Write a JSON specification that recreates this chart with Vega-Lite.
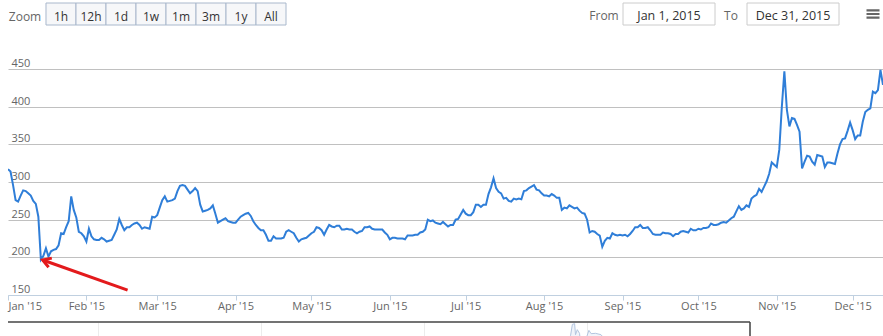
{
  "$schema": "https://vega.github.io/schema/vega-lite/v6.json",
  "padding": {"left": 7, "top": 2, "right": 0, "bottom": 0},
  "background": "white",
  "config": {"view": {"stroke": null}, "font": "Open Sans"},
  "datasets": {
    "btc": [
      {"d":"2015-01-01","v":317},{"d":"2015-01-02","v":314},{"d":"2015-01-03","v":296},{"d":"2015-01-04","v":276},{"d":"2015-01-05","v":274},{"d":"2015-01-06","v":282},{"d":"2015-01-07","v":289},{"d":"2015-01-08","v":288},{"d":"2015-01-09","v":285},{"d":"2015-01-10","v":282},
      {"d":"2015-01-11","v":275},{"d":"2015-01-12","v":271},{"d":"2015-01-13","v":254},{"d":"2015-01-14","v":197},{"d":"2015-01-15","v":202},{"d":"2015-01-16","v":212},{"d":"2015-01-17","v":201},{"d":"2015-01-18","v":208},{"d":"2015-01-19","v":210},{"d":"2015-01-20","v":211},
      {"d":"2015-01-21","v":216},{"d":"2015-01-22","v":232},{"d":"2015-01-23","v":231},{"d":"2015-01-24","v":240},{"d":"2015-01-25","v":248},{"d":"2015-01-26","v":281},{"d":"2015-01-27","v":263},{"d":"2015-01-28","v":253},{"d":"2015-01-29","v":234},{"d":"2015-01-30","v":232},{"d":"2015-01-31","v":228},
      {"d":"2015-02-01","v":221},{"d":"2015-02-02","v":238},{"d":"2015-02-03","v":228},{"d":"2015-02-04","v":224},{"d":"2015-02-05","v":223},{"d":"2015-02-06","v":223},{"d":"2015-02-07","v":226},{"d":"2015-02-08","v":224},{"d":"2015-02-09","v":221},{"d":"2015-02-10","v":222},
      {"d":"2015-02-11","v":223},{"d":"2015-02-12","v":230},{"d":"2015-02-13","v":237},{"d":"2015-02-14","v":251},{"d":"2015-02-15","v":243},{"d":"2015-02-16","v":236},{"d":"2015-02-17","v":240},{"d":"2015-02-18","v":240},{"d":"2015-02-19","v":243},{"d":"2015-02-20","v":245},
      {"d":"2015-02-21","v":246},{"d":"2015-02-22","v":243},{"d":"2015-02-23","v":238},{"d":"2015-02-24","v":240},{"d":"2015-02-25","v":239},{"d":"2015-02-26","v":238},{"d":"2015-02-27","v":254},{"d":"2015-02-28","v":253},
      {"d":"2015-03-01","v":256},{"d":"2015-03-02","v":266},{"d":"2015-03-03","v":276},{"d":"2015-03-04","v":281},{"d":"2015-03-05","v":274},{"d":"2015-03-06","v":275},{"d":"2015-03-07","v":276},{"d":"2015-03-08","v":278},{"d":"2015-03-09","v":288},{"d":"2015-03-10","v":295},
      {"d":"2015-03-11","v":296},{"d":"2015-03-12","v":295},{"d":"2015-03-13","v":290},{"d":"2015-03-14","v":285},{"d":"2015-03-15","v":288},{"d":"2015-03-16","v":292},{"d":"2015-03-17","v":288},{"d":"2015-03-18","v":270},{"d":"2015-03-19","v":261},{"d":"2015-03-20","v":262},
      {"d":"2015-03-21","v":263},{"d":"2015-03-22","v":265},{"d":"2015-03-23","v":269},{"d":"2015-03-24","v":258},{"d":"2015-03-25","v":246},{"d":"2015-03-26","v":248},{"d":"2015-03-27","v":250},{"d":"2015-03-28","v":252},{"d":"2015-03-29","v":248},{"d":"2015-03-30","v":247},{"d":"2015-03-31","v":246},
      {"d":"2015-04-01","v":246},{"d":"2015-04-02","v":250},{"d":"2015-04-03","v":254},{"d":"2015-04-04","v":256},{"d":"2015-04-05","v":258},{"d":"2015-04-06","v":259},{"d":"2015-04-07","v":255},{"d":"2015-04-08","v":248},{"d":"2015-04-09","v":243},{"d":"2015-04-10","v":239},
      {"d":"2015-04-11","v":236},{"d":"2015-04-12","v":236},{"d":"2015-04-13","v":230},{"d":"2015-04-14","v":222},{"d":"2015-04-15","v":222},{"d":"2015-04-16","v":228},{"d":"2015-04-17","v":225},{"d":"2015-04-18","v":225},{"d":"2015-04-19","v":225},{"d":"2015-04-20","v":226},
      {"d":"2015-04-21","v":234},{"d":"2015-04-22","v":236},{"d":"2015-04-23","v":234},{"d":"2015-04-24","v":232},{"d":"2015-04-25","v":226},{"d":"2015-04-26","v":221},{"d":"2015-04-27","v":224},{"d":"2015-04-28","v":225},{"d":"2015-04-29","v":226},{"d":"2015-04-30","v":229},
      {"d":"2015-05-01","v":232},{"d":"2015-05-02","v":234},{"d":"2015-05-03","v":240},{"d":"2015-05-04","v":239},{"d":"2015-05-05","v":236},{"d":"2015-05-06","v":230},{"d":"2015-05-07","v":237},{"d":"2015-05-08","v":243},{"d":"2015-05-09","v":241},{"d":"2015-05-10","v":240},
      {"d":"2015-05-11","v":242},{"d":"2015-05-12","v":242},{"d":"2015-05-13","v":237},{"d":"2015-05-14","v":237},{"d":"2015-05-15","v":238},{"d":"2015-05-16","v":237},{"d":"2015-05-17","v":237},{"d":"2015-05-18","v":234},{"d":"2015-05-19","v":232},{"d":"2015-05-20","v":234},
      {"d":"2015-05-21","v":235},{"d":"2015-05-22","v":240},{"d":"2015-05-23","v":240},{"d":"2015-05-24","v":241},{"d":"2015-05-25","v":238},{"d":"2015-05-26","v":237},{"d":"2015-05-27","v":237},{"d":"2015-05-28","v":237},{"d":"2015-05-29","v":237},{"d":"2015-05-30","v":233},{"d":"2015-05-31","v":230},
      {"d":"2015-06-01","v":224},{"d":"2015-06-02","v":226},{"d":"2015-06-03","v":226},{"d":"2015-06-04","v":225},{"d":"2015-06-05","v":225},{"d":"2015-06-06","v":225},{"d":"2015-06-07","v":224},{"d":"2015-06-08","v":229},{"d":"2015-06-09","v":229},{"d":"2015-06-10","v":229},
      {"d":"2015-06-11","v":230},{"d":"2015-06-12","v":230},{"d":"2015-06-13","v":233},{"d":"2015-06-14","v":234},{"d":"2015-06-15","v":237},{"d":"2015-06-16","v":250},{"d":"2015-06-17","v":248},{"d":"2015-06-18","v":249},{"d":"2015-06-19","v":246},{"d":"2015-06-20","v":245},
      {"d":"2015-06-21","v":244},{"d":"2015-06-22","v":247},{"d":"2015-06-23","v":244},{"d":"2015-06-24","v":241},{"d":"2015-06-25","v":243},{"d":"2015-06-26","v":243},{"d":"2015-06-27","v":250},{"d":"2015-06-28","v":251},{"d":"2015-06-29","v":257},{"d":"2015-06-30","v":263},
      {"d":"2015-07-01","v":258},{"d":"2015-07-02","v":256},{"d":"2015-07-03","v":256},{"d":"2015-07-04","v":260},{"d":"2015-07-05","v":270},{"d":"2015-07-06","v":270},{"d":"2015-07-07","v":267},{"d":"2015-07-08","v":270},{"d":"2015-07-09","v":270},{"d":"2015-07-10","v":284},
      {"d":"2015-07-11","v":293},{"d":"2015-07-12","v":305},{"d":"2015-07-13","v":292},{"d":"2015-07-14","v":287},{"d":"2015-07-15","v":285},{"d":"2015-07-16","v":278},{"d":"2015-07-17","v":279},{"d":"2015-07-18","v":275},{"d":"2015-07-19","v":274},{"d":"2015-07-20","v":278},
      {"d":"2015-07-21","v":277},{"d":"2015-07-22","v":278},{"d":"2015-07-23","v":277},{"d":"2015-07-24","v":288},{"d":"2015-07-25","v":289},{"d":"2015-07-26","v":292},{"d":"2015-07-27","v":294},{"d":"2015-07-28","v":296},{"d":"2015-07-29","v":290},{"d":"2015-07-30","v":289},{"d":"2015-07-31","v":285},
      {"d":"2015-08-01","v":282},{"d":"2015-08-02","v":282},{"d":"2015-08-03","v":281},{"d":"2015-08-04","v":284},{"d":"2015-08-05","v":282},{"d":"2015-08-06","v":279},{"d":"2015-08-07","v":279},{"d":"2015-08-08","v":263},{"d":"2015-08-09","v":266},{"d":"2015-08-10","v":265},
      {"d":"2015-08-11","v":269},{"d":"2015-08-12","v":267},{"d":"2015-08-13","v":265},{"d":"2015-08-14","v":266},{"d":"2015-08-15","v":262},{"d":"2015-08-16","v":259},{"d":"2015-08-17","v":258},{"d":"2015-08-18","v":250},{"d":"2015-08-19","v":233},{"d":"2015-08-20","v":235},
      {"d":"2015-08-21","v":234},{"d":"2015-08-22","v":231},{"d":"2015-08-23","v":229},{"d":"2015-08-24","v":214},{"d":"2015-08-25","v":222},{"d":"2015-08-26","v":226},{"d":"2015-08-27","v":225},{"d":"2015-08-28","v":232},{"d":"2015-08-29","v":230},{"d":"2015-08-30","v":229},{"d":"2015-08-31","v":230},
      {"d":"2015-09-01","v":229},{"d":"2015-09-02","v":230},{"d":"2015-09-03","v":228},{"d":"2015-09-04","v":231},{"d":"2015-09-05","v":235},{"d":"2015-09-06","v":240},{"d":"2015-09-07","v":240},{"d":"2015-09-08","v":243},{"d":"2015-09-09","v":239},{"d":"2015-09-10","v":239},
      {"d":"2015-09-11","v":240},{"d":"2015-09-12","v":236},{"d":"2015-09-13","v":231},{"d":"2015-09-14","v":230},{"d":"2015-09-15","v":230},{"d":"2015-09-16","v":230},{"d":"2015-09-17","v":233},{"d":"2015-09-18","v":232},{"d":"2015-09-19","v":232},{"d":"2015-09-20","v":231},
      {"d":"2015-09-21","v":228},{"d":"2015-09-22","v":231},{"d":"2015-09-23","v":231},{"d":"2015-09-24","v":234},{"d":"2015-09-25","v":235},{"d":"2015-09-26","v":234},{"d":"2015-09-27","v":233},{"d":"2015-09-28","v":238},{"d":"2015-09-29","v":236},{"d":"2015-09-30","v":236},
      {"d":"2015-10-01","v":238},{"d":"2015-10-02","v":237},{"d":"2015-10-03","v":239},{"d":"2015-10-04","v":239},{"d":"2015-10-05","v":240},{"d":"2015-10-06","v":245},{"d":"2015-10-07","v":243},{"d":"2015-10-08","v":243},{"d":"2015-10-09","v":244},{"d":"2015-10-10","v":246},
      {"d":"2015-10-11","v":247},{"d":"2015-10-12","v":246},{"d":"2015-10-13","v":249},{"d":"2015-10-14","v":252},{"d":"2015-10-15","v":254},{"d":"2015-10-16","v":261},{"d":"2015-10-17","v":268},{"d":"2015-10-18","v":263},{"d":"2015-10-19","v":265},{"d":"2015-10-20","v":269},
      {"d":"2015-10-21","v":267},{"d":"2015-10-22","v":278},{"d":"2015-10-23","v":281},{"d":"2015-10-24","v":283},{"d":"2015-10-25","v":291},{"d":"2015-10-26","v":287},{"d":"2015-10-27","v":294},{"d":"2015-10-28","v":301},{"d":"2015-10-29","v":311},{"d":"2015-10-30","v":326},{"d":"2015-10-31","v":323},
      {"d":"2015-11-01","v":320},{"d":"2015-11-02","v":343},{"d":"2015-11-03","v":400},{"d":"2015-11-04","v":447},{"d":"2015-11-05","v":396},{"d":"2015-11-06","v":374},{"d":"2015-11-07","v":385},{"d":"2015-11-08","v":384},{"d":"2015-11-09","v":376},{"d":"2015-11-10","v":367},
      {"d":"2015-11-11","v":318},{"d":"2015-11-12","v":327},{"d":"2015-11-13","v":335},{"d":"2015-11-14","v":334},{"d":"2015-11-15","v":327},{"d":"2015-11-16","v":323},{"d":"2015-11-17","v":336},{"d":"2015-11-18","v":335},{"d":"2015-11-19","v":334},{"d":"2015-11-20","v":320},
      {"d":"2015-11-21","v":326},{"d":"2015-11-22","v":326},{"d":"2015-11-23","v":325},{"d":"2015-11-24","v":324},{"d":"2015-11-25","v":338},{"d":"2015-11-26","v":350},{"d":"2015-11-27","v":357},{"d":"2015-11-28","v":358},{"d":"2015-11-29","v":368},{"d":"2015-11-30","v":379},
      {"d":"2015-12-01","v":369},{"d":"2015-12-02","v":357},{"d":"2015-12-03","v":362},{"d":"2015-12-04","v":362},{"d":"2015-12-05","v":380},{"d":"2015-12-06","v":393},{"d":"2015-12-07","v":396},{"d":"2015-12-08","v":398},{"d":"2015-12-09","v":420},{"d":"2015-12-10","v":418},
      {"d":"2015-12-11","v":422},{"d":"2015-12-12","v":449},{"d":"2015-12-13","v":429},{"d":"2015-12-14","v":446}
    ],
    "nav": [
      {"d":"2010-07-18","v":0.08},{"d":"2010-10-01","v":0.06},{"d":"2011-01-01","v":0.3},{"d":"2011-03-01","v":0.9},{"d":"2011-05-01","v":3.5},{"d":"2011-06-08","v":29},{"d":"2011-07-01","v":15},{"d":"2011-09-01","v":8},{"d":"2011-11-15","v":2.3},
      {"d":"2012-01-08","v":7},{"d":"2012-03-01","v":5},{"d":"2012-06-01","v":5.3},{"d":"2012-08-16","v":13.5},{"d":"2012-10-01","v":12.4},{"d":"2012-12-01","v":12.6},
      {"d":"2013-02-01","v":20.4},{"d":"2013-03-15","v":47},{"d":"2013-04-09","v":230},{"d":"2013-04-16","v":68},{"d":"2013-06-01","v":129},{"d":"2013-07-05","v":68},{"d":"2013-09-01","v":146},{"d":"2013-10-01","v":125},{"d":"2013-10-25","v":180},
      {"d":"2013-11-05","v":250},{"d":"2013-11-12","v":355},{"d":"2013-11-17","v":490},{"d":"2013-11-18","v":700},{"d":"2013-11-21","v":720},{"d":"2013-11-25","v":800},{"d":"2013-11-29","v":1130},{"d":"2013-12-04","v":1150},{"d":"2013-12-06","v":820},
      {"d":"2013-12-10","v":970},{"d":"2013-12-15","v":860},{"d":"2013-12-18","v":520},{"d":"2013-12-22","v":650},{"d":"2013-12-31","v":750},{"d":"2014-01-05","v":950},{"d":"2014-01-10","v":850},{"d":"2014-01-20","v":860},{"d":"2014-02-01","v":820},
      {"d":"2014-02-10","v":680},{"d":"2014-02-25","v":530},{"d":"2014-03-05","v":670},{"d":"2014-03-20","v":590},{"d":"2014-04-10","v":380},{"d":"2014-05-01","v":455},{"d":"2014-06-03","v":660},{"d":"2014-07-01","v":640},{"d":"2014-08-01","v":585},
      {"d":"2014-08-18","v":470},{"d":"2014-09-22","v":400},{"d":"2014-10-05","v":320},{"d":"2014-11-01","v":325},{"d":"2014-11-12","v":420},{"d":"2014-12-01","v":380},{"d":"2014-12-31","v":318},
      {"d":"2015-01-14","v":197},{"d":"2015-02-01","v":221},{"d":"2015-03-11","v":296},{"d":"2015-04-14","v":222},{"d":"2015-05-15","v":238},{"d":"2015-06-15","v":237},{"d":"2015-07-12","v":305},{"d":"2015-08-24","v":214},{"d":"2015-09-15","v":230},{"d":"2015-10-25","v":291}
    ]
  },
  "spacing": 13,
  "bounds": "full",
  "vconcat": [
    {
      "spacing": 0,
      "bounds": "flush",
      "hconcat": [
        {
          "width": 34, "height": 22,
          "data": {"values": [{"t": "Zoom"}]},
          "mark": {"type": "text", "fontSize": 12, "color": "#666666", "dy": 3},
          "encoding": {"text": {"field": "t"}}
        },
        {
          "width": 248, "height": 22,
          "data": {"values": [{"b": "1h"}, {"b": "12h"}, {"b": "1d"}, {"b": "1w"}, {"b": "1m"}, {"b": "3m"}, {"b": "1y"}, {"b": "All"}]},
          "encoding": {"x": {"field": "b", "type": "nominal", "sort": null, "scale": {"paddingInner": 0, "paddingOuter": 0.1333}, "axis": null}},
          "layer": [
            {"mark": {"type": "rect", "fill": "#f6f7f9", "stroke": "#a9b8cc", "strokeWidth": 1}},
            {"mark": {"type": "text", "fontSize": 12, "color": "#333333", "dy": 3}, "encoding": {"text": {"field": "b"}}}
          ]
        },
        {
          "width": 295, "height": 22,
          "data": {"values": [{"t": ""}]},
          "mark": {"type": "text"},
          "encoding": {"text": {"field": "t"}}
        },
        {
          "width": 38, "height": 22,
          "data": {"values": [{"t": "From"}]},
          "mark": {"type": "text", "fontSize": 12, "color": "#666666", "dy": 2},
          "encoding": {"text": {"field": "t"}}
        },
        {
          "width": 92, "height": 22,
          "data": {"values": [{"t": "Jan 1, 2015"}]},
          "layer": [
            {"mark": {"type": "rect", "fill": "#ffffff", "stroke": "#cccccc", "strokeWidth": 1}},
            {"mark": {"type": "text", "fontSize": 12.5, "color": "#333333", "dy": 2}, "encoding": {"text": {"field": "t"}}}
          ]
        },
        {
          "width": 32, "height": 22,
          "data": {"values": [{"t": "To"}]},
          "mark": {"type": "text", "fontSize": 12, "color": "#666666", "dy": 2},
          "encoding": {"text": {"field": "t"}}
        },
        {
          "width": 92, "height": 22,
          "data": {"values": [{"t": "Dec 31, 2015"}]},
          "layer": [
            {"mark": {"type": "rect", "fill": "#ffffff", "stroke": "#cccccc", "strokeWidth": 1}},
            {"mark": {"type": "text", "fontSize": 12.5, "color": "#333333", "dy": 2}, "encoding": {"text": {"field": "t"}}}
          ]
        },
        {
          "width": 24, "height": 22,
          "data": {"values": [{"t": ""}]},
          "mark": {"type": "text"},
          "encoding": {"text": {"field": "t"}}
        },
        {
          "width": 20, "height": 22,
          "data": {"values": [{"t": "menu"}]},
          "mark": {"type": "point", "shape": "M-1,-0.55H1M-1,0H1M-1,0.55H1", "size": 169, "filled": false, "color": "#666666", "strokeWidth": 2.2, "opacity": 1, "dy": 2},
          "encoding": {}
        }
      ]
    },
    {
      "spacing": 27,
      "bounds": "flush",
      "vconcat": [
        {
          "width": 876, "height": 256,
          "layer": [
            {
              "data": {"name": "btc"},
              "mark": {"type": "line", "color": "#2f7ed8", "strokeWidth": 2, "clip": true},
              "encoding": {
                "x": {
                  "field": "d", "type": "temporal",
                  "scale": {"type": "utc", "domain": [1420070400000, 1449999360000]},
                  "axis": {
                    "title": null, "format": "%b '%y",
                    "tickCount": {"interval": "month", "step": 1},
                    "grid": false, "domainColor": "#C0D0E0", "tickColor": "#C0D0E0", "tickSize": 5,
                    "labelPadding": 0, "labelFlush": true, "labelOverlap": false,
                    "labelColor": "#666666", "labelFontSize": 11, "labelFont": "Open Sans"
                  }
                },
                "y": {
                  "field": "v", "type": "quantitative",
                  "scale": {"domain": [150, 490], "nice": false, "zero": false},
                  "axis": {
                    "title": null, "values": [150, 200, 250, 300, 350, 400, 450],
                    "grid": true,
                    "gridColor": {"condition": {"test": "datum.value === 150", "value": "#C0D0E0"}, "value": "#C0C0C0"},
                    "domain": false, "ticks": false, "tickSize": 0,
                    "labelAlign": "left", "labelBaseline": "alphabetic", "labelPadding": -3, "labelOffset": -2.5,
                    "labelColor": "#666666", "labelFontSize": 11, "labelFont": "Open Sans"
                  }
                }
              }
            },
            {
              "data": {"values": [{"d": "2015-02-17T07:00:00Z", "v": 156.5, "d2": "2015-01-14T17:00:00Z", "v2": 196.5}]},
              "mark": {"type": "rule", "color": "#e31a1c", "strokeWidth": 3},
              "encoding": {
                "x": {"field": "d", "type": "temporal"},
                "y": {"field": "v", "type": "quantitative"},
                "x2": {"field": "d2"},
                "y2": {"field": "v2"}
              }
            },
            {
              "data": {"values": [{"d": "2015-01-14T17:00:00Z", "v": 196.5}]},
              "mark": {"type": "point", "shape": "M-1,-0.6L0,0L-1,0.6", "angle": 199.4, "size": 256, "filled": false, "color": "#e31a1c", "strokeWidth": 3, "opacity": 1},
              "encoding": {
                "x": {"field": "d", "type": "temporal"},
                "y": {"field": "v", "type": "quantitative"}
              }
            }
          ]
        },
        {
          "width": 876, "height": 14,
          "layer": [
            {
              "data": {"name": "nav"},
              "mark": {"type": "area", "clip": true, "color": "#eaf0f8", "line": {"color": "#b3c5df", "strokeWidth": 1}},
              "encoding": {
                "x": {
                  "field": "d", "type": "temporal",
                  "scale": {"type": "utc", "domain": [1276413120000, 1446016320000]},
                  "axis": {"title": null, "labels": false, "ticks": false, "domain": false, "grid": true, "gridColor": "#ececec", "tickCount": {"interval": "year", "step": 1}}
                },
                "y": {"field": "v", "type": "quantitative", "scale": {"domain": [780, 1200], "nice": false, "zero": false}, "axis": null}
              }
            },
            {
              "data": {"values": [{"d": 1276413120000, "d2": "2015-01-01", "v": 1200}]},
              "mark": {"type": "rule", "color": "#444444", "strokeWidth": 1.5},
              "encoding": {
                "x": {"field": "d", "type": "temporal"},
                "x2": {"field": "d2"},
                "y": {"field": "v", "type": "quantitative"}
              }
            },
            {
              "data": {"values": [{"d": "2015-01-01"}]},
              "mark": {"type": "rule", "color": "#444444", "strokeWidth": 1.5},
              "encoding": {"x": {"field": "d", "type": "temporal"}}
            }
          ]
        }
      ]
    }
  ]
}
